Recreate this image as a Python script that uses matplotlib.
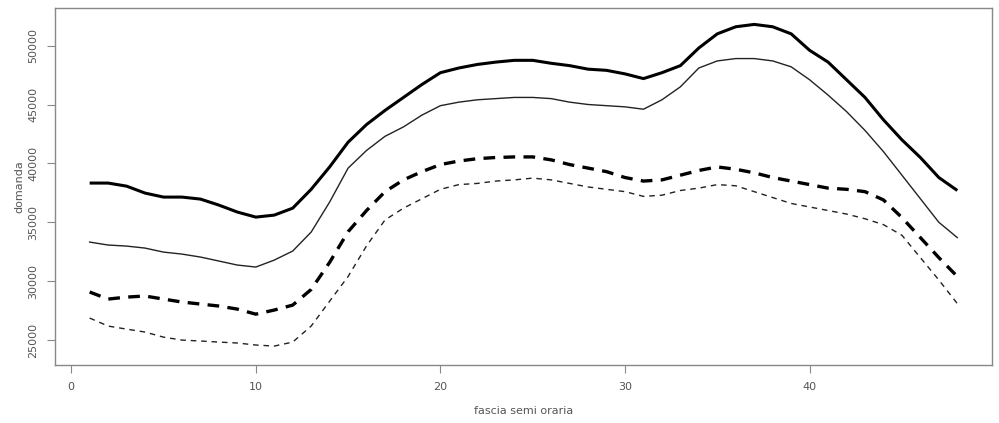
import numpy as np
import matplotlib
matplotlib.use('Agg')
import matplotlib.pyplot as plt

# fasce semi orarie 1..48
fascia = list(range(1, 49))

# curva superiore (spessa, continua)
sup_spessa = [38330, 38330, 38070, 37480, 37140, 37140, 36970, 36460, 35870, 35440,
              35610, 36200, 37800, 39700, 41800, 43300, 44500, 45600, 46700, 47700,
              48100, 48400, 48600, 48750, 48750, 48500, 48300, 48000, 47900, 47600,
              47200, 47700, 48300, 49800, 51000, 51600, 51800, 51600, 51000, 49600,
              48600, 47100, 45600, 43700, 42000, 40500, 38800, 37700]

# curva continua sottile
sup_sottile = [33320, 33070, 32980, 32810, 32470, 32300, 32050, 31710, 31370, 31200,
               31790, 32560, 34170, 36720, 39600, 41100, 42300, 43100, 44100, 44900,
               45200, 45400, 45500, 45600, 45600, 45500, 45200, 45000, 44900, 44800,
               44600, 45400, 46500, 48100, 48700, 48900, 48900, 48700, 48200, 47100,
               45800, 44400, 42800, 41000, 39000, 37000, 35000, 33700]

# tratteggio spesso
inf_spessa = [29080, 28480, 28650, 28740, 28480, 28230, 28060, 27890, 27630, 27200,
              27550, 27970, 29300, 31600, 34200, 36000, 37600, 38600, 39300, 39900,
              40200, 40400, 40500, 40550, 40550, 40300, 39900, 39600, 39300, 38800,
              38500, 38600, 39000, 39400, 39700, 39500, 39200, 38800, 38500, 38200,
              37900, 37800, 37600, 36900, 35400, 33700, 32000, 30400]

# tratteggio sottile
inf_sottile = [26870, 26190, 25930, 25680, 25250, 25000, 24920, 24830, 24750, 24580,
               24490, 24830, 26190, 28300, 30400, 33000, 35200, 36200, 37000, 37800,
               38200, 38300, 38500, 38600, 38750, 38600, 38300, 38000, 37800, 37600,
               37200, 37300, 37700, 37900, 38200, 38100, 37600, 37100, 36600, 36300,
               36000, 35700, 35300, 34800, 33900, 32000, 30100, 28100]

x_ticks = [0, 10, 20, 30, 40]
y_ticks = [25000, 30000, 35000, 40000, 45000, 50000]

fig = plt.figure(figsize=(9.99, 4.23), dpi=100)
ax = fig.add_axes([0.055, 0.137, 0.938, 0.844])

ax.plot(fascia, sup_spessa, color='black', lw=2.2, solid_capstyle='butt')
ax.plot(fascia, sup_sottile, color='#222222', lw=1.0)
ax.plot(fascia, inf_spessa, color='black', lw=2.4, dashes=(3.5, 2.5))
ax.plot(fascia, inf_sottile, color='#222222', lw=1.0, dashes=(4, 3.5))

ax.set_xlim(-0.88, 49.88)
ax.set_ylim(22880, 53190)
ax.set_xticks(x_ticks)
ax.set_yticks(y_ticks)
ax.set_xticklabels([str(t) for t in x_ticks])
ax.set_yticklabels([str(t) for t in y_ticks], rotation=90, va='center')

for s in ax.spines.values():
    s.set_color('#888888')
    s.set_linewidth(1.0)
ax.tick_params(direction='out', length=6, color='#888888', labelsize=8,
               labelcolor='#555555', pad=6)

ax.set_xlabel('fascia semi oraria', fontsize=8, color='#555555', labelpad=10)
ax.set_ylabel('domanda', fontsize=8, color='#555555', labelpad=3)

fig.savefig('out.png', dpi=100)
